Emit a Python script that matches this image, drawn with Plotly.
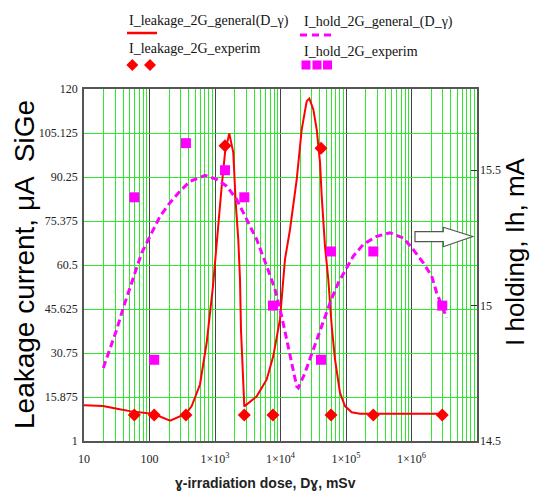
import plotly.graph_objects as go

# ---------------- data ----------------
# Leakage current, general model (left axis, µA)
leak_gen_x = [10, 19.5, 31.9, 50.4, 117, 206, 361, 441, 590, 747, 931, 1062, 1265, 1422,
              1652, 1902, 2070, 2268, 2408, 2495, 2675, 2800, 4335, 6155, 7760, 9820,
              11700, 13970, 17670, 21070, 25130, 27540, 31700, 35720, 40100, 42560,
              47780, 53700, 60530, 67950, 80980, 96500, 122200, 163600, 2.92e6]
leak_gen_y = [13.1, 12.8, 11.9, 11.1, 10.1, 7.9, 10.2, 12.8, 20.1, 34.3, 53.3, 69.1, 87.1, 98.5,
              105.0, 98.5, 81.6, 69.1, 55.6, 38.4, 21.8, 12.7, 16.1, 21.8, 29.7, 42.1,
              62.4, 72.5, 89.4, 106.3, 115.9, 116.8, 113.1, 106.3, 95.2, 83.8,
              66.9, 55.6, 39.8, 28.6, 17.3, 12.8, 10.7, 10.2, 10.2]

# Leakage current, experiment (left axis, µA)
leak_exp_x = [58.6, 118, 360, 1422, 2800, 7670, 41500, 59000, 261000, 2.95e6]
leak_exp_y = [9.8, 9.8, 9.8, 100.8, 9.8, 9.8, 100.0, 9.8, 9.8, 9.8]

# Holding current, general model (right axis, mA)
hold_gen_x = [19.7, 24.9, 31.6, 39.8, 50.4, 76.0, 101.8, 144.7, 205.5, 292.2, 415, 703,
              1061, 1510, 2145, 3048, 4333, 6157, 8240, 10430, 13150, 17670, 18700,
              23650, 31700, 42560, 57000, 76300, 115000, 129200, 183600, 294300,
              469700, 750500, 1.065e6, 1.513e6, 2.033e6, 2.425e6, 3.44e6]
hold_gen_y = [14.770, 14.838, 14.912, 14.992, 15.066, 15.195, 15.256, 15.330, 15.380, 15.423,
              15.459, 15.481, 15.466, 15.441, 15.392, 15.318, 15.244, 15.146, 15.060, 14.961,
              14.850, 14.702, 14.696, 14.752, 14.838, 14.924, 15.010, 15.084, 15.164,
              15.183, 15.226, 15.256, 15.269, 15.250, 15.207, 15.158, 15.109, 15.047, 14.955]

# Holding current, experiment (right axis, mA)
hold_exp_x = [58.6, 118, 360, 1422, 2800, 7670, 41500, 59000, 261000, 2.95e6]
hold_exp_y = [15.4, 14.8, 15.6, 15.5, 15.4, 15.0, 14.8, 15.2, 15.2, 15.0]

# ticks
x_tickvals = [10, 100, 1e3, 1e4, 1e5, 1e6]
x_ticktext = ["10", "100", "1×10<sup>3</sup>", "1×10<sup>4</sup>", "1×10<sup>5</sup>", "1×10<sup>6</sup>"]
y_tickvals = [1, 15.875, 30.75, 45.625, 60.5, 75.375, 90.25, 105.125, 120]
y_ticktext = ["1", "15.875", "30.75", "45.625", "60.5", "75.375", "90.25", "105.125", "120"]
y2_tickvals = [14.5, 15, 15.5]
y2_ticktext = ["14.5", "15", "15.5"]

RED = "#ff0000"
MAG = "#ff00ff"
GREEN = "#2ee82e"
SERIF = "Liberation Serif"
SANS = "Liberation Sans"

fig = go.Figure()

fig.add_trace(go.Scatter(x=hold_gen_x, y=hold_gen_y, yaxis="y2", mode="lines",
                         line=dict(color=MAG, width=3, dash="7px,4px"), showlegend=False))
fig.add_trace(go.Scatter(x=leak_gen_x, y=leak_gen_y, mode="lines",
                         line=dict(color=RED, width=2), showlegend=False))
fig.add_trace(go.Scatter(x=hold_exp_x, y=hold_exp_y, yaxis="y2", mode="markers",
                         marker=dict(symbol="square", size=10, color=MAG), showlegend=False))
fig.add_trace(go.Scatter(x=leak_exp_x, y=leak_exp_y, mode="markers",
                         marker=dict(symbol="diamond", size=10, color=RED), showlegend=False))

W, H = 534, 496
L, R, T, B = 84, 477, 89, 441
pw, ph = R - L, B - T

def px(xp):
    return (xp - L) / pw

def py(yp):
    return (B - yp) / ph

shapes = []
# hollow block arrow pointing right
path = "M {a},{b} L {c},{b} L {c},{d} L {e},{f} L {c},{g} L {c},{h} L {a},{h} Z".format(
    a=px(415), b=py(231.7), c=px(443.3), d=py(227.3), e=px(472.7), f=py(236.5),
    g=py(246.7), h=py(241.7))
shapes.append(dict(type="path", path=path, xref="paper", yref="paper",
                   line=dict(color="#555555", width=1.2), fillcolor="white", layer="above"))

# legend samples
shapes.append(dict(type="line", xref="paper", yref="paper", x0=px(127), x1=px(157),
                   y0=py(33), y1=py(33), line=dict(color=RED, width=2.5)))
for xs in (300, 312, 324):
    shapes.append(dict(type="line", xref="paper", yref="paper", x0=px(xs), x1=px(xs + 7),
                       y0=py(35), y1=py(35), line=dict(color=MAG, width=3)))
for xc in (132.3, 150):
    d = "M {x0},{yc} L {xm},{yt} L {x1},{yc} L {xm},{yb} Z".format(
        x0=px(xc - 6), x1=px(xc + 6), xm=px(xc), yc=py(65), yt=py(59), yb=py(71))
    shapes.append(dict(type="path", path=d, xref="paper", yref="paper",
                       line=dict(color=RED, width=0), fillcolor=RED))
for xc in (306, 317, 327.5):
    shapes.append(dict(type="rect", xref="paper", yref="paper", x0=px(xc - 4.5), x1=px(xc + 4.5),
                       y0=py(69.5), y1=py(60.5), line=dict(color=MAG, width=0), fillcolor=MAG))

annotations = [
    dict(text="I_leakage_2G_general(D_γ)", x=px(127), y=py(21), xanchor="left", yanchor="middle"),
    dict(text="I_hold_2G_general_(D_γ)", x=px(302), y=py(22), xanchor="left", yanchor="middle"),
    dict(text="I_leakage_2G_experim", x=px(127), y=py(48), xanchor="left", yanchor="middle"),
    dict(text="I_hold_2G_experim", x=px(302), y=py(51), xanchor="left", yanchor="middle"),
]
for a in annotations:
    a.update(xref="paper", yref="paper", showarrow=False,
             font=dict(family=SERIF, size=14, color="#111111"))

annotations += [
    dict(text="Leakage current, μA  SiGe", x=px(24), y=py(265), xref="paper", yref="paper",
         showarrow=False, textangle=-90, xanchor="center", yanchor="middle",
         font=dict(family=SANS, size=28, color="#000000")),
    dict(text="I holding, Ih, mA", x=px(515), y=py(252), xref="paper", yref="paper",
         showarrow=False, textangle=-90, xanchor="center", yanchor="middle",
         font=dict(family=SANS, size=26, color="#000000")),
    dict(text="<b>ɣ-irradiation dose, Dɣ, mSv</b>", x=px(265), y=py(483), xref="paper", yref="paper",
         showarrow=False, xanchor="center", yanchor="middle",
         font=dict(family=SANS, size=14, color="#222222")),
]

fig.update_layout(
    width=W, height=H,
    margin=dict(l=L, r=W - R, t=T, b=H - B, pad=0),
    paper_bgcolor="white", plot_bgcolor="white",
    showlegend=False,
    shapes=shapes, annotations=annotations,
    xaxis=dict(type="log", range=[1, 7], tickmode="array", tickvals=x_tickvals, ticktext=x_ticktext,
               showgrid=True, gridcolor="#444444", gridwidth=1,
               minor=dict(showgrid=True, gridcolor=GREEN, gridwidth=1, dtick="D1", ticks=""),
               showline=True, linecolor="#555555", linewidth=1.5, mirror=True,
               ticks="", ticklabelstandoff=6,
               tickfont=dict(family=SERIF, size=12, color="#222222"), zeroline=False),
    yaxis=dict(range=[1, 120], tickmode="array", tickvals=y_tickvals, ticktext=y_ticktext,
               showgrid=True, gridcolor=GREEN, gridwidth=1,
               showline=True, linecolor="#555555", linewidth=1.5, mirror=True,
               ticks="", ticklabelstandoff=2,
               tickfont=dict(family=SERIF, size=12, color="#222222"), zeroline=False),
    yaxis2=dict(range=[14.5, 15.8], overlaying="y", side="right", tickmode="array",
                tickvals=y2_tickvals, ticktext=y2_ticktext, showgrid=False,
                ticks="inside", ticklen=6, tickcolor="#333333", ticklabelstandoff=2,
                tickfont=dict(family=SERIF, size=12, color="#222222"), zeroline=False),
)

fig.write_html("out.html")
